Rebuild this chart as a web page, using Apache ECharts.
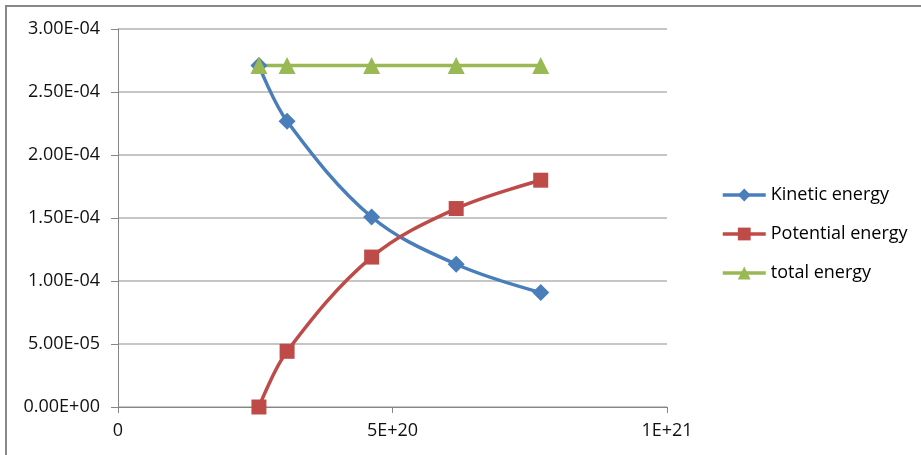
<!DOCTYPE html>
<html>
<head>
<meta charset="utf-8">
<script src="https://cdn.jsdelivr.net/npm/echarts@6/dist/echarts.min.js"></script>
<style>
html,body{margin:0;padding:0;background:#fff;}
#chart{width:921px;height:455px;}
</style>
</head>
<body>
<div id="chart"></div>
<script>
const xValues = [2.567e20, 3.08e20, 4.62e20, 6.16e20, 7.70e20];
const kinetic = [2.71e-4, 2.268e-4, 1.508e-4, 1.133e-4, 0.908e-4];
const potential = [0, 0.442e-4, 1.19e-4, 1.575e-4, 1.80e-4];
const total = [2.71e-4, 2.71e-4, 2.71e-4, 2.71e-4, 2.71e-4];
const seriesNames = ['Kinetic energy', 'Potential energy', 'total energy'];
const xTickLabels = {0: '0', 5e20: '5E+20', 1e21: '1E+21'};

const FONT = '"Open Sans", "Liberation Sans", sans-serif';
function pairs(ys){ return xValues.map((x,i)=>[x, ys[i]]); }
function yFmt(v){
  const s = Number(v).toExponential(2).toUpperCase();
  return s.replace(/E([+-])(\d)$/, 'E$10$2');
}
const chart = echarts.init(document.getElementById('chart'), null, {renderer:'canvas'});
chart.setOption({
  animation:false,
  backgroundColor:'#fff',
  graphic:[{type:'rect', shape:{x:6,y:6,width:2000,height:2000}, style:{fill:'none', stroke:'#888', lineWidth:2}, silent:true}],
  grid:{left:118, right:254, top:29, bottom:48},
  xAxis:{
    type:'value', min:0, max:1e21, interval:5e20,
    axisLine:{show:true, lineStyle:{color:'#868686', width:1}},
    axisTick:{show:true, length:6, lineStyle:{color:'#868686'}},
    splitLine:{show:false},
    axisLabel:{margin:15, color:'#111', fontFamily:FONT, fontSize:18,
      formatter:v=>xTickLabels[v] !== undefined ? xTickLabels[v] : ''}
  },
  yAxis:{
    type:'value', min:0, max:3e-4, interval:5e-5,
    axisLine:{show:true, lineStyle:{color:'#868686', width:1}},
    axisTick:{show:true, length:7, lineStyle:{color:'#868686'}},
    splitLine:{show:true, lineStyle:{color:'#b3b3b3', width:1.5}},
    axisLabel:{margin:18, color:'#111', fontFamily:FONT, fontSize:18, formatter:yFmt}
  },
  legend:{
    orient:'vertical', left:721, top:186, padding:0, itemWidth:43, itemHeight:16, itemGap:21,
    textStyle:{color:'#000', fontFamily:FONT, fontSize:18},
    lineStyle:{width:3.5},
    data:seriesNames
  },
  series:[
    {name:seriesNames[0], type:'line', smooth:0.35, data:pairs(kinetic),
     symbol:'diamond', symbolSize:17,
     lineStyle:{color:'#4a7ebb', width:3.5}, itemStyle:{color:'#4a7ebb'}},
    {name:seriesNames[1], type:'line', smooth:0.35, data:pairs(potential),
     symbol:'rect', symbolSize:15,
     lineStyle:{color:'#be4b48', width:3.5}, itemStyle:{color:'#be4b48'}},
    {name:seriesNames[2], type:'line', smooth:0.35, data:pairs(total),
     symbol:'triangle', symbolSize:17,
     lineStyle:{color:'#98b954', width:3.5}, itemStyle:{color:'#98b954'}}
  ]
});
</script>
</body>
</html>
